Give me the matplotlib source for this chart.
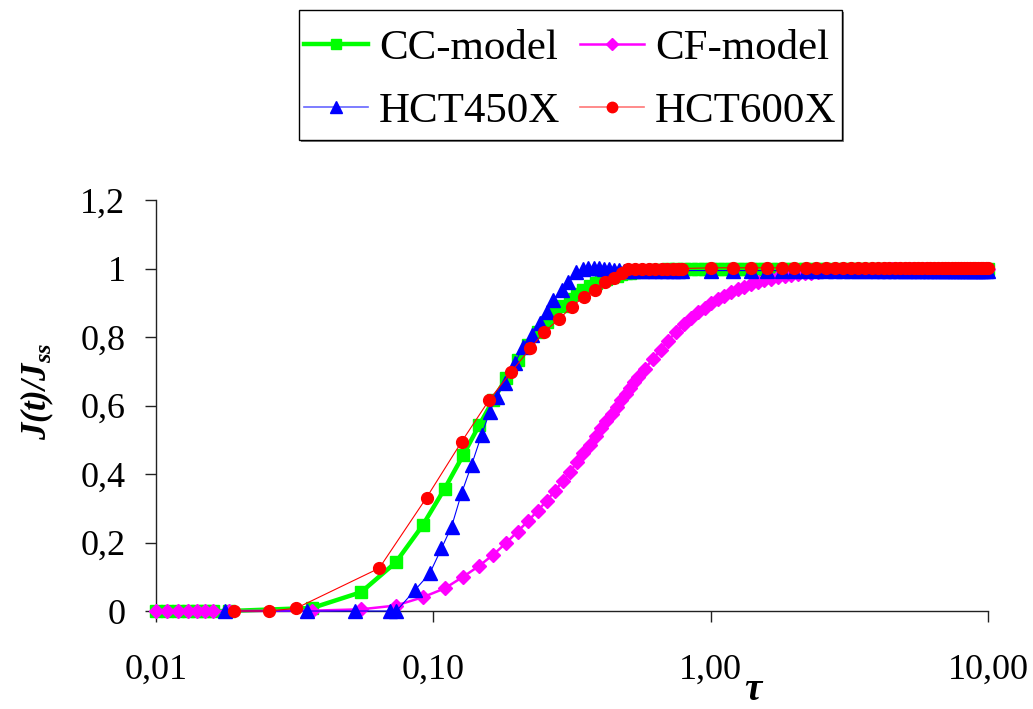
import matplotlib
matplotlib.use("Agg")
import matplotlib.pyplot as plt
from matplotlib.patches import Rectangle
from matplotlib.ticker import NullLocator, FixedLocator, FixedFormatter

plt.rcParams['font.family'] = ['Liberation Serif', 'DejaVu Serif']
plt.rcParams['mathtext.fontset'] = 'custom'
plt.rcParams['mathtext.rm'] = 'Liberation Serif:bold:italic'
plt.rcParams['mathtext.it'] = 'Liberation Serif:bold:italic'
plt.rcParams['mathtext.bf'] = 'Liberation Serif:bold:italic'

# ---------------- data ----------------
# model curves share one tau grid
tau_model = [0.010, 0.011, 0.012, 0.013, 0.014, 0.015, 0.016,
             0.0183, 0.0366, 0.0549, 0.0732, 0.0915, 0.1098, 0.1281, 0.1464, 0.1647, 0.1830,
             0.2013, 0.2196, 0.2379, 0.2562, 0.2745, 0.2928, 0.3111, 0.3294, 0.3477, 0.3660,
             0.3843, 0.4026, 0.4209, 0.4392, 0.4575, 0.4758, 0.4941, 0.5124, 0.5307, 0.5490,
             0.58, 0.62, 0.66, 0.70, 0.75, 0.80, 0.85, 0.90, 0.95, 1.00,
             1.06, 1.12, 1.18, 1.25, 1.32, 1.40, 1.48, 1.56, 1.65, 1.75,
             1.85, 1.95, 2.06, 2.18, 2.30, 2.43, 2.57, 2.72, 2.88, 3.05,
             3.22, 3.40, 3.60, 3.80, 4.00, 4.25, 4.50, 4.75, 5.00, 5.30,
             5.60, 5.90, 6.25, 6.60, 7.00, 7.40, 7.80, 8.25, 8.70, 9.20, 9.70, 10.00]

cc_model = [0.0, 0.0, 0.0, 0.0, 0.0, 0.0, 0.0,
            0.000, 0.009, 0.055, 0.142, 0.250, 0.357, 0.455, 0.543, 0.617, 0.680,
            0.733, 0.777, 0.814, 0.845, 0.871, 0.892, 0.910, 0.925, 0.938, 0.948,
            0.957, 0.964, 0.970, 0.975, 0.979, 0.983, 0.986, 0.988, 0.990, 0.992,
            0.994, 0.996, 0.997, 0.998, 0.999, 1.000, 1.000, 1.000, 1.000, 1.000,
            1.000, 1.000, 1.000, 1.000, 1.000, 1.000, 1.000, 1.000, 1.000, 1.000,
            1.000, 1.000, 1.000, 1.000, 1.000, 1.000, 1.000, 1.000, 1.000, 1.000,
            1.000, 1.000, 1.000, 1.000, 1.000, 1.000, 1.000, 1.000, 1.000, 1.000,
            1.000, 1.000, 1.000, 1.000, 1.000, 1.000, 1.000, 1.000, 1.000, 1.000, 1.000, 1.000]

cf_model = [0.0, 0.0, 0.0, 0.0, 0.0, 0.0, 0.0,
            0.000, 0.001, 0.005, 0.016, 0.040, 0.066, 0.100, 0.132, 0.165, 0.199,
            0.232, 0.263, 0.293, 0.322, 0.351, 0.379, 0.406, 0.435, 0.461, 0.486,
            0.510, 0.533, 0.555, 0.576, 0.596, 0.615, 0.633, 0.651, 0.668, 0.684,
            0.708, 0.736, 0.763, 0.788, 0.815, 0.838, 0.856, 0.872, 0.886, 0.898,
            0.910, 0.921, 0.930, 0.939, 0.947, 0.954, 0.960, 0.965, 0.970, 0.975,
            0.978, 0.981, 0.984, 0.986, 0.988, 0.990, 0.992, 0.993, 0.994, 0.995,
            0.996, 0.997, 0.998, 0.998, 0.999, 0.999, 0.999, 1.000, 1.000, 1.000,
            1.000, 1.000, 1.000, 1.000, 1.000, 1.000, 1.000, 1.000, 1.000, 1.000, 1.000, 1.000]

# experimental plateau times (shared by both steels)
tau_exp_tail = [0.535, 0.567, 0.600, 0.632, 0.665, 0.697, 0.730, 0.760, 0.790,
                1.0, 1.2, 1.4, 1.6, 1.8, 2.0, 2.2, 2.4, 2.6, 2.8,
                3.0, 3.2, 3.4, 3.6, 3.8, 4.0, 4.2, 4.4, 4.6, 4.8,
                5.0, 5.2, 5.4, 5.6, 5.8, 6.0, 6.2, 6.4, 6.6, 6.8,
                7.0, 7.2, 7.4, 7.6, 7.8, 8.0, 8.2, 8.4, 8.6, 8.8,
                9.0, 9.2, 9.4, 9.6, 9.8, 10.0]

tau_450 = [0.0177, 0.0349, 0.0521, 0.0697, 0.0736, 0.0858, 0.0971, 0.107, 0.1163, 0.1264,
           0.1373, 0.1492, 0.1598, 0.169, 0.181, 0.1966, 0.2107, 0.226, 0.242, 0.256,
           0.270, 0.290, 0.306, 0.328, 0.347, 0.362, 0.378, 0.395, 0.412, 0.430,
           0.448, 0.466, 0.485, 0.505] + tau_exp_tail
hct450 = [0.0, 0.0, 0.0, 0.0, 0.0, 0.061, 0.110, 0.183, 0.246, 0.344,
          0.426, 0.514, 0.582, 0.626, 0.667, 0.723, 0.772, 0.806, 0.840, 0.874,
          0.908, 0.937, 0.961, 0.990, 1.000, 1.002, 1.002, 1.002, 1.000, 0.998,
          0.996, 0.995, 0.994, 0.994,
          0.994, 0.994, 0.994, 0.994, 0.994, 0.994, 0.994, 0.994, 0.994,
          0.994, 0.994, 0.994, 0.994, 0.994, 0.994, 0.994, 0.994, 0.994, 0.994,
          0.994, 0.994, 0.994, 0.994, 0.994, 0.994, 0.994, 0.994, 0.994, 0.994,
          0.994, 0.994, 0.994, 0.994, 0.994, 0.994, 0.994, 0.994, 0.994, 0.994,
          0.994, 0.994, 0.994, 0.994, 0.994, 0.994, 0.994, 0.994, 0.994, 0.994,
          0.994, 0.994, 0.994, 0.994, 0.994, 0.994]

tau_600 = [0.0191, 0.0256, 0.0320, 0.0638, 0.0945, 0.1264, 0.1589, 0.1913, 0.224, 0.2506,
           0.284, 0.315, 0.3494, 0.382, 0.4174, 0.448, 0.479, 0.5035] + tau_exp_tail
hct600 = [0.0, 0.0, 0.008, 0.125, 0.331, 0.494, 0.616, 0.699, 0.767, 0.815,
          0.852, 0.888, 0.918, 0.937, 0.961, 0.973, 0.986, 1.000,
          1.000, 1.000, 1.000, 1.000, 1.000, 1.000, 1.000, 1.000, 1.000,
          1.002, 1.002, 1.002, 1.002, 1.002, 1.002, 1.002, 1.002, 1.002, 1.002,
          1.002, 1.002, 1.002, 1.002, 1.002, 1.002, 1.002, 1.002, 1.002, 1.002,
          1.002, 1.002, 1.002, 1.002, 1.002, 1.002, 1.002, 1.002, 1.002, 1.002,
          1.002, 1.002, 1.002, 1.002, 1.002, 1.002, 1.002, 1.002, 1.002, 1.002,
          1.002, 1.002, 1.002, 1.002, 1.002, 1.002]

x_ticks = [0.01, 0.1, 1.0, 10.0]
x_tick_labels = ['0,01', '0,10', '1,00', '10,00']
y_ticks = [0, 0.2, 0.4, 0.6, 0.8, 1.0, 1.2]
y_tick_labels = ['0', '0,2', '0,4', '0,6', '0,8', '1', '1,2']

# ---------------- plot ----------------
W, H = 1033, 709
fig = plt.figure(figsize=(W / 100, H / 100), dpi=100)
ax = fig.add_axes([0.151, 0.1382, 0.8055, 0.5797])

l_cc, = ax.plot(tau_model, cc_model, color='#00FF00', lw=3.2, marker='s', ms=8.2,
                mec='#00FF00', mfc='#00FF00', clip_on=False, zorder=3)
l_cf, = ax.plot(tau_model, cf_model, color='#FF00FF', lw=1.8, marker='D', ms=7.0,
                mec='#FF00FF', mfc='#FF00FF', clip_on=False, zorder=4)
l_450, = ax.plot(tau_450, hct450, color='#0000FF', lw=0.8, marker='^', ms=9.8,
                 mec='#0000FF', mfc='#0000FF', clip_on=False, zorder=5)
l_600, = ax.plot(tau_600, hct600, color='#FF0000', lw=0.8, marker='o', ms=8.5,
                 mec='#FF0000', mfc='#FF0000', clip_on=False, zorder=6)

ax.set_xscale('log')
ax.set_xlim(0.01, 10)
ax.set_ylim(0, 1.2)
ax.xaxis.set_major_locator(FixedLocator(x_ticks))
ax.xaxis.set_major_formatter(FixedFormatter(x_tick_labels))
ax.xaxis.set_minor_locator(NullLocator())
ax.yaxis.set_major_locator(FixedLocator(y_ticks))
ax.yaxis.set_major_formatter(FixedFormatter(y_tick_labels))

for s in ['top', 'right']:
    ax.spines[s].set_visible(False)
for s in ['left', 'bottom']:
    ax.spines[s].set_color('#222222')
    ax.spines[s].set_linewidth(1.0)

ax.tick_params(axis='x', direction='out', length=8, width=1, labelsize=26, pad=23, color='#222222')
ax.tick_params(axis='y', direction='out', length=8, width=1, labelsize=26, pad=14, color='#222222')

fig.text(0.036, 0.448, r'$J(t)/J_{ss}$', rotation=90, ha='center', va='center', fontsize=25)
fig.text(0.729, 0.0, 'τ', ha='center', va='bottom', fontsize=28,
         fontweight='bold', fontstyle='italic')

# legend box (drawn as a figure rectangle with a thin grey shadow)
bx0, by0, bx1, by1 = 299, 10, 842, 140
fig.patches.append(Rectangle(((bx0 + 2) / W, 1 - (by1 + 2) / H), (bx1 - bx0) / W, (by1 - by0) / H,
                             transform=fig.transFigure, facecolor='#808080', edgecolor='none', zorder=1))
fig.patches.append(Rectangle((bx0 / W, 1 - by1 / H), (bx1 - bx0) / W, (by1 - by0) / H,
                             transform=fig.transFigure, facecolor='white', edgecolor='black',
                             linewidth=1.0, zorder=2))

h_cc, = ax.plot([], [], color='#00FF00', lw=3.2, marker='s', ms=7, mec='#00FF00', mfc='#00FF00')
h_cf, = ax.plot([], [], color='#FF00FF', lw=1.8, marker='D', ms=6, mec='#FF00FF', mfc='#FF00FF')
h_450, = ax.plot([], [], color='#6666FF', lw=1.2, marker='^', ms=8, mec='#0000FF', mfc='#0000FF')
h_600, = ax.plot([], [], color='#FF7777', lw=1.2, marker='o', ms=7.5, mec='#FF0000', mfc='#FF0000')

leg = fig.legend([h_cc, h_450, h_cf, h_600], ['CC-model', 'HCT450X', 'CF-model', 'HCT600X'],
                 ncol=2, loc='center', bbox_to_anchor=(0.552, 0.887), bbox_transform=fig.transFigure,
                 fontsize=31, frameon=False, numpoints=1, handlelength=1.5,
                 handletextpad=0.25, columnspacing=0.45, labelspacing=0.54, borderpad=0.0,
                 borderaxespad=0)
leg.set_zorder(5)

fig.savefig('out.png', dpi=100)
